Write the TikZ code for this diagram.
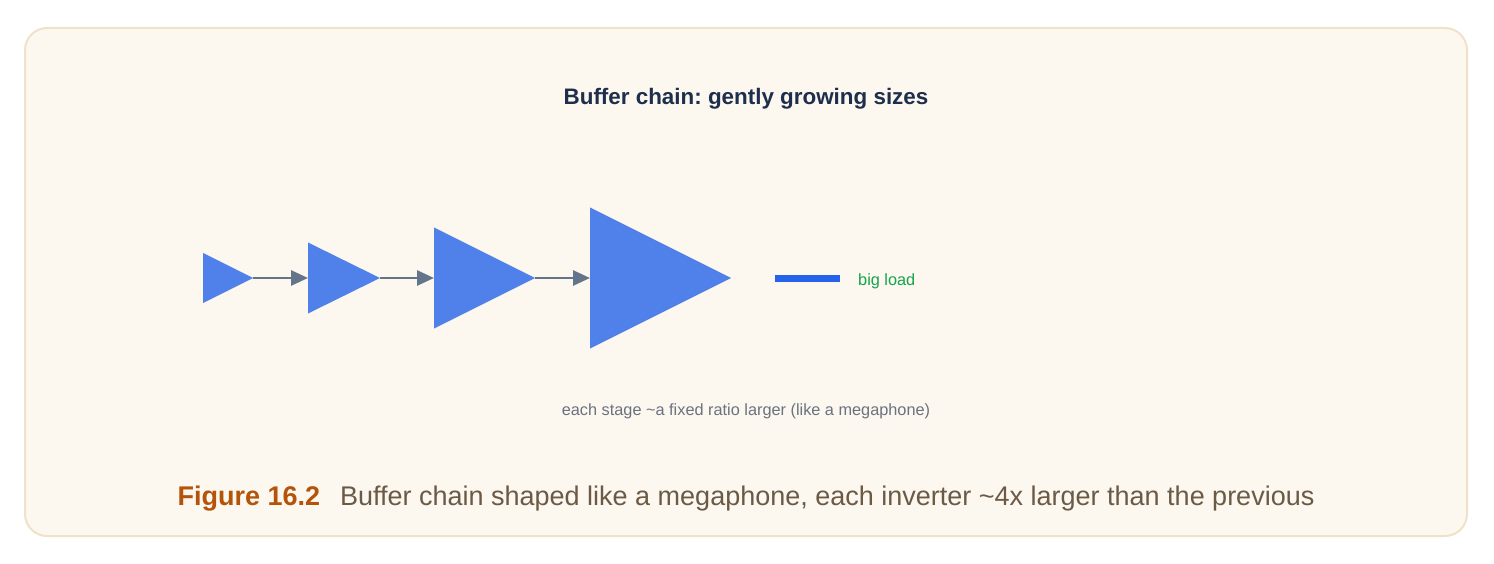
\documentclass[tikz,border=0pt]{standalone}
\usepackage{fontspec}
\setmainfont{Liberation Sans}
\usetikzlibrary{shapes.geometric,arrows.meta}
\frenchspacing
\definecolor{framefill}{HTML}{FCF7EF}
\definecolor{frameline}{HTML}{F0E2C8}
\definecolor{triblue}{HTML}{5080EA}
\definecolor{arrowgray}{HTML}{64748B}
\definecolor{loadblue}{HTML}{2563EB}
\definecolor{loadgreen}{HTML}{16A34A}
\definecolor{titlenavy}{HTML}{1E2F4D}
\definecolor{subgray}{HTML}{6B7280}
\definecolor{figorange}{HTML}{B45309}
\definecolor{capbrown}{HTML}{6B5A45}
\tikzset{
  stage/.style={isosceles triangle, isosceles triangle stretches=true, shape border rotate=0,
    fill=triblue, draw=none, inner sep=0pt, outer sep=0pt, anchor=west},
  wire/.style={draw=arrowgray, line width=2.8pt, -{Triangle[length=17pt,width=15pt]}},
}
\begin{document}
\begin{tikzpicture}[x=1pt,y=-1pt]
\useasboundingbox (0,0) rectangle (1494,564);
\draw[fill=framefill, draw=frameline, line width=2pt, rounded corners=22pt] (25,28) rectangle (1467,536);
\node[font=\fontsize{22.4}{26}\selectfont\bfseries, text=titlenavy] (title) at (746,99) {Buffer chain: gently growing sizes};
\node[stage, minimum height=50pt, minimum width=50pt] (t1) at (203,278) {};
\node[stage, minimum height=72pt, minimum width=71pt] (t2) at (308,278) {};
\node[stage, minimum height=101pt, minimum width=101pt] (t3) at (434,278) {};
\node[stage, minimum height=141pt, minimum width=141pt] (t4) at (590,278) {};
\draw[wire] (t1.east) -- (t2.west);
\draw[wire] (t2.east) -- (t3.west);
\draw[wire] (t3.east) -- (t4.west);
\node[fill=loadblue, minimum width=65pt, minimum height=7pt, inner sep=0pt, anchor=west] (load) at (775,278) {};
\node[font=\fontsize{16.3}{19}\selectfont, text=loadgreen, anchor=west, inner sep=0pt] (loadlabel) at (858,281) {big load};
\node[font=\fontsize{16.3}{19}\selectfont, text=subgray] (note) at (746,411) {each stage \textasciitilde a fixed ratio larger (like a megaphone)};
\node[font=\fontsize{27}{31}\selectfont] (caption) at (746,499) {\textcolor{figorange}{\bfseries Figure 16.2}\hspace{20pt}\textcolor{capbrown}{Buffer chain shaped like a megaphone, each inverter \textasciitilde 4x larger than the previous}};
\end{tikzpicture}
\end{document}
